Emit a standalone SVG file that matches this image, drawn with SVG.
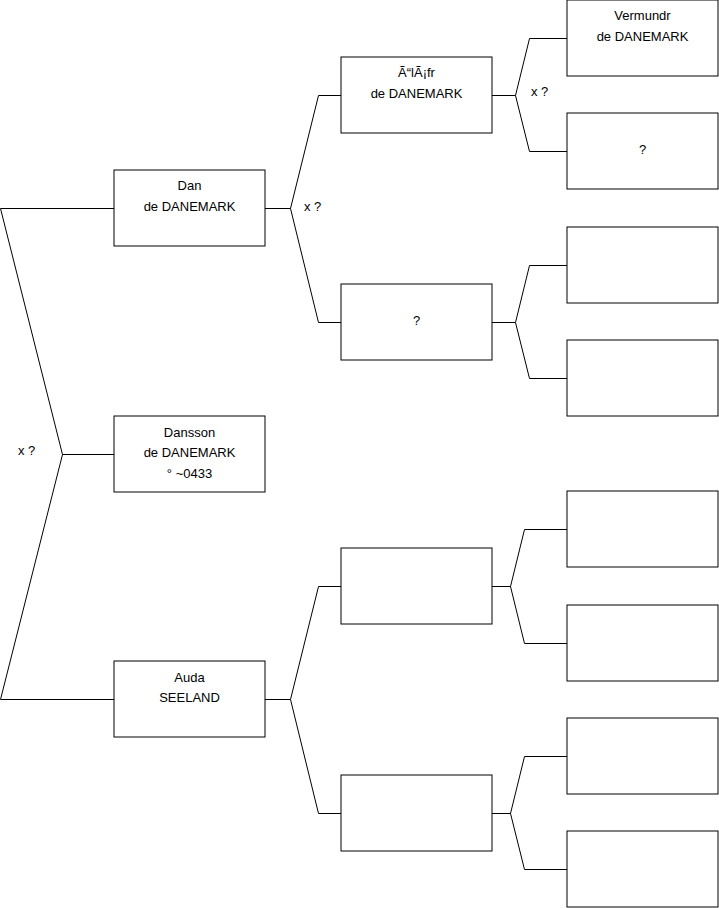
<svg xmlns="http://www.w3.org/2000/svg" width="719" height="908" viewBox="0 0 719 908">
<style>
.box{fill:#fff;stroke:#000;stroke-width:1}
.c{fill:none;stroke:#000;stroke-width:1}
text{font-family:"Liberation Sans",Arial,sans-serif;font-size:13px;fill:#000}
.m{text-anchor:middle}
</style>
<rect width="719" height="908" fill="#fff"/>
<g id="connectors">
<path class="c" d="M0.5,208.5H114M0.5,208.5L62.5,454.5L0.5,699.5H114M62.5,454.5H114"/>
<path class="c" d="M265,208.5H290.5L318.5,95.5H341M290.5,208.5L318.5,322.5H341"/>
<path class="c" d="M265,699.5H290.5L318.5,586.5H341M290.5,699.5L318.5,813.5H341"/>
<path class="c" d="M492,95.5H515.5L529.5,38.5H567M515.5,95.5L529.5,151.5H567"/>
<path class="c" d="M492,322.5H515.5L529.5,265.5H567M515.5,322.5L529.5,378.5H567"/>
<path class="c" d="M492,586.5H510.5L524.5,529.5H567M510.5,586.5L524.5,643.5H567"/>
<path class="c" d="M492,813.5H510.5L524.5,756.5H567M510.5,813.5L524.5,869.5H567"/>
<text x="18" y="455">x ?</text>
<text x="304" y="211">x ?</text>
<text x="531" y="96">x ?</text>
</g>
<g id="dan"><rect class="box" x="114" y="170" width="151" height="76"/><text class="m" x="189.5" y="190">Dan</text><text class="m" x="189.5" y="211">de DANEMARK</text></g>
<g id="dansson"><rect class="box" x="114" y="416" width="151" height="76"/><text class="m" x="189.5" y="437">Dansson</text><text class="m" x="189.5" y="457">de DANEMARK</text><text class="m" x="189.5" y="478">° ~0433</text></g>
<g id="auda"><rect class="box" x="114" y="661" width="151" height="76"/><text class="m" x="189.5" y="682">Auda</text><text class="m" x="189.5" y="702">SEELAND</text></g>
<g id="olafr"><rect class="box" x="341" y="57" width="151" height="76"/><text class="m" x="416.5" y="77">Ã“lÃ¡fr</text><text class="m" x="416.5" y="98">de DANEMARK</text></g>
<g id="unk2"><rect class="box" x="341" y="284" width="151" height="76"/><text class="m" x="416.5" y="325">?</text></g>
<g id="b2c"><rect class="box" x="341" y="548" width="151" height="76"/></g>
<g id="b2d"><rect class="box" x="341" y="775" width="151" height="76"/></g>
<g id="vermundr"><rect class="box" x="567" y="0" width="151" height="76"/><text class="m" x="642.5" y="20">Vermundr</text><text class="m" x="642.5" y="41">de DANEMARK</text></g>
<g id="unk3"><rect class="box" x="567" y="113" width="151" height="76"/><text class="m" x="642.5" y="154">?</text></g>
<g id="b3c"><rect class="box" x="567" y="227" width="151" height="76"/></g>
<g id="b3d"><rect class="box" x="567" y="340" width="151" height="76"/></g>
<g id="b3e"><rect class="box" x="567" y="491" width="151" height="76"/></g>
<g id="b3f"><rect class="box" x="567" y="605" width="151" height="76"/></g>
<g id="b3g"><rect class="box" x="567" y="718" width="151" height="76"/></g>
<g id="b3h"><rect class="box" x="567" y="831" width="151" height="76"/></g>
</svg>
